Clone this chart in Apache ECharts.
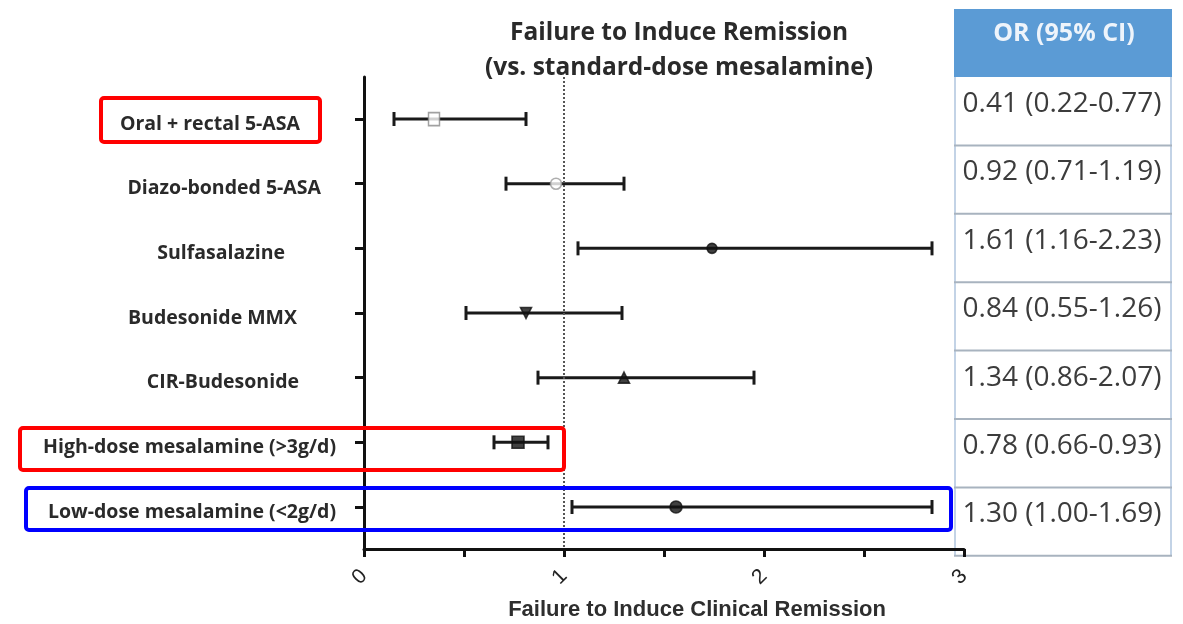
<!DOCTYPE html>
<html>
<head>
<meta charset="utf-8">
<script src="https://cdn.jsdelivr.net/npm/echarts@6/dist/echarts.min.js"></script>
<style>
  html, body { margin: 0; padding: 0; background: #ffffff; }
  #chart { width: 1183px; height: 624px; }
</style>
</head>
<body>
<div id="chart"></div>
<script>
// ---------- data ----------
const categories = [
  'Oral + rectal 5-ASA',
  'Diazo-bonded 5-ASA',
  'Sulfasalazine',
  'Budesonide MMX',
  'CIR-Budesonide',
  'High-dose mesalamine (>3g/d)',
  'Low-dose mesalamine (<2g/d)'
];
const pointEst = [0.35, 0.96, 1.74, 0.81, 1.30, 0.77, 1.56];
const ciLow    = [0.15, 0.71, 1.07, 0.51, 0.87, 0.65, 1.04];
const ciHigh   = [0.81, 1.30, 2.84, 1.29, 1.95, 0.92, 2.84];
const orTable  = [
  '0.41 (0.22-0.77)',
  '0.92 (0.71-1.19)',
  '1.61 (1.16-2.23)',
  '0.84 (0.55-1.26)',
  '1.34 (0.86-2.07)',
  '0.78 (0.66-0.93)',
  '1.30 (1.00-1.69)'
];
const tableHeader = 'OR (95% CI)';
const xTickValues = [0, 1, 2, 3];
const xTickLabels = ['0', '1', '2', '3'];
const referenceValue = 1;
const titleLines = ['Failure to Induce Remission', '(vs. standard-dose mesalamine)'];
const xAxisTitle = 'Failure to Induce Clinical Remission';

// ---------- styles (kept apart from data) ----------
const markerStyles = [
  { symbol: 'rect', size: [11, 13], fill: '#ffffff', stroke: '#8a8a8a', rotate: 0 },
  { symbol: 'circle', size: 11, fill: '#ffffff', stroke: '#9a9a9a', rotate: 0 },
  { symbol: 'circle', size: 10, fill: '#111111', stroke: '#111111', rotate: 0 },
  { symbol: 'triangle', size: 11, fill: '#111111', stroke: '#111111', rotate: 180 },
  { symbol: 'triangle', size: 11, fill: '#111111', stroke: '#111111', rotate: 0 },
  { symbol: 'rect', size: 12, fill: '#111111', stroke: '#111111', rotate: 0 },
  { symbol: 'circle', size: 12, fill: '#111111', stroke: '#111111', rotate: 0 }
];
const labelRightPad = [36, 15, 51, 39, 37, 0, 0];
const labelFont = { fontFamily: '"Open Sans", sans-serif', fontWeight: 'bold', fontSize: 19.5, color: '#2a2a2a' };

const rich = {};
labelRightPad.forEach((p, i) => {
  rich['r' + i] = Object.assign({ padding: [10, p, 0, 0] }, labelFont);
});

const errData = categories.map((c, i) => [i, ciLow[i], ciHigh[i]]);
const ptData = categories.map((c, i) => ({
  value: [pointEst[i], i],
  symbol: markerStyles[i].symbol,
  symbolSize: markerStyles[i].size,
  symbolRotate: markerStyles[i].rotate,
  itemStyle: { color: markerStyles[i].fill, borderColor: markerStyles[i].stroke, borderWidth: 1.6 }
}));

// ---------- table graphic ----------
const tbl = { x: 954, w: 218, top: 9, headH: 68, rowH: 68.4 };
const tableEls = [];
tableEls.push({ type: 'rect', shape: { x: tbl.x, y: tbl.top, width: tbl.w, height: tbl.headH }, style: { fill: '#5b9bd5' } });
tableEls.push({ type: 'text', x: tbl.x + tbl.w / 2 + 1, y: tbl.top + 25, style: { text: tableHeader, fill: '#eef4fb', font: 'bold 25px "Open Sans", sans-serif', align: 'center', verticalAlign: 'middle' } });
const bodyTop = tbl.top + tbl.headH;
const bodyBottom = bodyTop + tbl.rowH * orTable.length;
tableEls.push({ type: 'line', shape: { x1: tbl.x + 1, y1: bodyTop, x2: tbl.x + 1, y2: bodyBottom }, style: { stroke: '#c3d3e6', lineWidth: 2 } });
tableEls.push({ type: 'line', shape: { x1: tbl.x + tbl.w - 1, y1: bodyTop, x2: tbl.x + tbl.w - 1, y2: bodyBottom }, style: { stroke: '#c3d3e6', lineWidth: 2 } });
orTable.forEach((t, i) => {
  const y0 = bodyTop + i * tbl.rowH;
  tableEls.push({ type: 'text', x: tbl.x + tbl.w / 2 - 1, y: y0 + 27, style: { text: t, fill: '#3c3c3c', font: '28px "Open Sans", sans-serif', align: 'center', verticalAlign: 'middle' } });
  tableEls.push({ type: 'line', shape: { x1: tbl.x, y1: y0 + tbl.rowH, x2: tbl.x + tbl.w, y2: y0 + tbl.rowH }, style: { stroke: '#a8b3bf', lineWidth: 2 } });
});

// ---------- annotation boxes ----------
const boxes = [
  { x: 101, y: 98, w: 219, h: 44, color: '#ff0000' },
  { x: 20, y: 428, w: 544, h: 42, color: '#ff0000' },
  { x: 26, y: 488, w: 925, h: 42, color: '#0000ff' }
];
const boxEls = boxes.map(b => ({
  type: 'rect', z: 100,
  shape: { x: b.x, y: b.y, width: b.w, height: b.h, r: 3 },
  style: { fill: 'none', stroke: b.color, lineWidth: 4 }
}));

const chart = echarts.init(document.getElementById('chart'), null, { renderer: 'canvas' });
chart.setOption({
  animation: false,
  backgroundColor: '#ffffff',
  title: {
    text: titleLines.join('\n'),
    left: 679,
    top: 16,
    textAlign: 'center',
    padding: 0,
    textStyle: { fontFamily: '"Open Sans", sans-serif', fontWeight: 'bold', fontSize: 24.5, color: '#2a2a2a', lineHeight: 35 }
  },
  grid: { left: 364, right: 219, top: 77, bottom: 75, outerBoundsMode: 'none' },
  xAxis: {
    type: 'value', min: 0, max: 3, interval: 0.5,
    splitLine: { show: false },
    axisLine: { onZero: false, lineStyle: { color: '#111', width: 3 } },
    axisTick: { show: true, length: 8, lineStyle: { color: '#111', width: 3 } },
    axisLabel: {
      customValues: xTickValues,
      formatter: v => xTickLabels[xTickValues.indexOf(Math.round(v))],
      rotate: 45, margin: 24,
      fontFamily: '"Liberation Sans", Arial, sans-serif', fontSize: 21, color: '#222'
    },
    name: xAxisTitle, nameLocation: 'middle', nameGap: 50,
    nameTextStyle: { fontFamily: '"Liberation Sans", Arial, sans-serif', fontWeight: 'bold', fontSize: 22, color: '#2e2e2e', padding: [0, 0, 0, 66] }
  },
  yAxis: {
    type: 'value', inverse: true, min: -0.65, max: 6.65,
    splitLine: { show: false },
    axisLine: { onZero: false, lineStyle: { color: '#111', width: 3 } },
    axisTick: { show: true, customValues: categories.map((c, i) => i), length: 9, lineStyle: { color: '#111', width: 3 } },
    axisLabel: {
      customValues: categories.map((c, i) => i),
      formatter: v => '{r' + Math.round(v) + '|' + categories[Math.round(v)] + '}',
      margin: 28, rich: rich
    }
  },
  series: [
    {
      type: 'custom',
      data: errData,
      encode: { x: [1, 2], y: 0 },
      renderItem: (params, api) => {
        const row = api.value(0);
        const p1 = api.coord([api.value(1), row]);
        const p2 = api.coord([api.value(2), row]);
        const h = 7;
        const st = { stroke: '#1a1a1a', lineWidth: 3 };
        return {
          type: 'group',
          children: [
            { type: 'line', shape: { x1: p1[0], y1: p1[1], x2: p2[0], y2: p2[1] }, style: st },
            { type: 'line', shape: { x1: p1[0], y1: p1[1] - h, x2: p1[0], y2: p1[1] + h }, style: st },
            { type: 'line', shape: { x1: p2[0], y1: p2[1] - h, x2: p2[0], y2: p2[1] + h }, style: st }
          ]
        };
      },
      markLine: {
        silent: true, symbol: 'none', label: { show: false },
        lineStyle: { type: [2, 2], color: '#555', width: 2 },
        data: [{ xAxis: referenceValue }]
      },
      z: 2
    },
    {
      type: 'scatter',
      data: ptData,
      z: 5
    }
  ],
  graphic: tableEls.concat(boxEls)
});
</script>
</body>
</html>
